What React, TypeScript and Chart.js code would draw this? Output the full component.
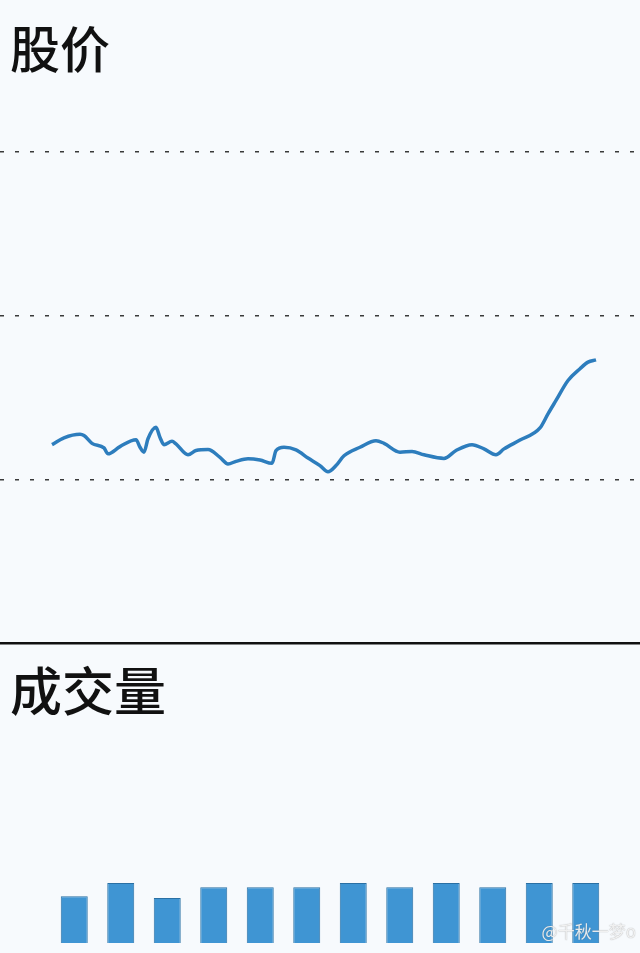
import React, { useEffect, useRef } from 'react';
import { Chart, registerables } from 'chart.js';

Chart.register(...registerables);

// 股价 — trading day and closing value
const priceDays = [
  0, 3, 7, 8, 10, 13, 14, 17, 21, 22, 23, 24, 26, 27, 28, 30, 31, 34, 36, 39,
  42, 44, 46, 49, 52, 55, 56, 58, 61, 64, 67, 69, 71, 73, 77, 81, 83, 87, 90,
  93, 98, 101, 105, 108, 111, 113, 117, 122, 124, 126, 129, 132, 134, 136,
];
const priceValues = [
  60.6, 62.7, 63.8, 63.4, 61.0, 59.6, 57.8, 60.0, 62.1, 59.8, 58.3, 62.4, 65.9,
  62.8, 60.6, 61.6, 60.8, 57.5, 58.8, 59.1, 56.7, 54.7, 55.5, 56.3, 55.9, 54.9,
  58.8, 59.8, 59.0, 56.5, 54.2, 52.3, 54.2, 57.2, 59.8, 61.8, 61.0, 58.3, 58.5,
  57.5, 56.4, 58.8, 60.6, 59.3, 57.5, 59.3, 62.0, 65.7, 70.0, 74.1, 80.2, 83.8,
  85.8, 86.5,
];
const priceTicks = [0, 50, 100, 150];

// 成交量 — twelve periods
const volumeLabels = ['1', '2', '3', '4', '5', '6', '7', '8', '9', '10', '11', '12'];
const volumeValues = [78, 100, 75, 93, 93, 93, 100, 93, 100, 93, 100, 100];

const BG = '#f7fafd';

const App: React.FC = () => {
  const priceRef = useRef<HTMLCanvasElement>(null);
  const volumeRef = useRef<HTMLCanvasElement>(null);

  useEffect(() => {
    document.body.style.margin = '0';
    document.body.style.background = BG;

    let priceChart: Chart | null = null;
    let volumeChart: Chart | null = null;

    if (priceRef.current) {
      priceChart = new Chart(priceRef.current, {
        type: 'line',
        data: {
          datasets: [{
            data: priceDays.map((d, i) => ({ x: d, y: priceValues[i] })),
            borderColor: '#2d7dbd',
            borderWidth: 3.5,
            cubicInterpolationMode: 'monotone',
            pointRadius: 0,
            fill: false,
          }],
        },
        options: {
          animation: false,
          responsive: false,
          layout: { padding: { top: 152, left: 0, right: 0, bottom: 3 } },
          plugins: { legend: { display: false }, tooltip: { enabled: false } },
          scales: {
            x: {
              type: 'linear',
              min: -13,
              max: 147,
              grid: { display: false, drawTicks: false },
              ticks: { display: false },
              border: { display: true, color: '#111', width: 2.5 },
            },
            y: {
              min: priceTicks[0],
              max: priceTicks[priceTicks.length - 1],
              afterBuildTicks: (axis) => {
                axis.ticks = priceTicks.map((v) => ({ value: v }));
              },
              grid: { color: '#3a3a3a', lineWidth: 1.6, drawTicks: false },
              border: { display: false, dash: [4, 11] },
              ticks: { display: false },
            },
          },
        },
      });
    }

    if (volumeRef.current) {
      volumeChart = new Chart(volumeRef.current, {
        type: 'bar',
        data: {
          labels: volumeLabels,
          datasets: [{
            data: volumeValues,
            backgroundColor: '#3f95d3',
            borderColor: '#2a70a4',
            borderWidth: 1,
            categoryPercentage: 1,
            barPercentage: 0.58,
          }],
        },
        options: {
          animation: false,
          responsive: false,
          layout: { padding: { top: 117, left: 51, right: 31, bottom: 10 } },
          plugins: { legend: { display: false }, tooltip: { enabled: false } },
          scales: {
            x: { display: false },
            y: { display: false, min: 0, max: 300 },
          },
        },
      });
    }

    return () => {
      if (priceChart) priceChart.destroy();
      if (volumeChart) volumeChart.destroy();
    };
  }, []);

  const titleStyle: React.CSSProperties = {
    position: 'absolute',
    left: 10,
    margin: 0,
    fontFamily: '"Noto Sans CJK SC", sans-serif',
    fontWeight: 500,
    fontSize: 50,
    lineHeight: 1,
    color: '#111',
  };

  return (
    <div style={{ position: 'relative', width: 640, height: 953, background: BG, overflow: 'hidden' }}>
      <canvas ref={priceRef} width={640} height={646} style={{ position: 'absolute', left: 0, top: 0 }} />
      <canvas ref={volumeRef} width={640} height={307} style={{ position: 'absolute', left: 0, top: 646 }} />
      <div style={{ ...titleStyle, top: 21 }}>股价</div>
      <div style={{ ...titleStyle, top: 663, fontSize: 52 }}>成交量</div>
      <div
        style={{
          position: 'absolute',
          right: 4,
          top: 918,
          fontFamily: '"Noto Sans CJK SC", sans-serif',
          fontSize: 17,
          color: 'rgba(255,255,255,0.85)',
          textShadow: '0 0 1px rgba(100,100,100,0.7)',
        }}
      >
        @千秋一梦o
      </div>
    </div>
  );
};

export default App;
